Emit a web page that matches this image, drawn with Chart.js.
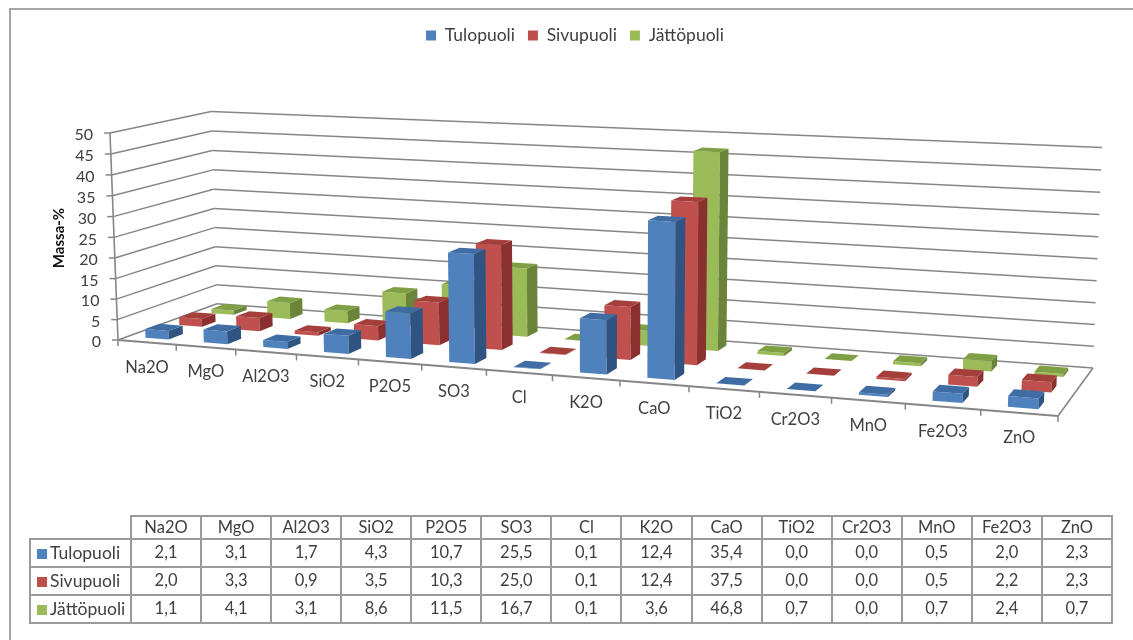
<!DOCTYPE html>
<html>
<head>
<meta charset="utf-8">
<script src="https://cdn.jsdelivr.net/npm/chart.js@4"></script>
<style>
  body { margin: 0; background: #fff; font-family: Lato, sans-serif; }
  #wrap { position: relative; width: 1133px; height: 640px; overflow: hidden; filter: blur(0.45px); }
  #frame { position: absolute; left: 9px; top: 8px; width: 1200px; height: 700px; border: 2px solid #a6a6a6; box-sizing: border-box; }
  canvas { position: absolute; left: 0; top: 0; }
  #tbl { position: absolute; left: 29px; top: 515px; border-collapse: collapse; table-layout: fixed; width: 1084px; font-size: 16.5px; color: #404040; }
  #tbl td { border: 2px solid #9a9a9a; text-align: center; padding: 0 0 2px 0; height: 24px; white-space: nowrap; }
  #tbl tr:first-child td { height: 20px; padding-bottom: 1px; }
  #tbl td.blank { border: 0; border-right: 2px solid #9a9a9a; border-bottom: 2px solid #9a9a9a; }
  #tbl td.name { text-align: left; padding-left: 6px; font-size: 17.5px; }
  #tbl i { display: inline-block; width: 10px; height: 10px; margin-right: 3px; }
</style>
</head>
<body>
<div id="wrap">
  <div id="frame"></div>
  <canvas id="c" width="1133" height="640"></canvas>
  <table id="tbl"></table>
</div>
<script>
const categories = ['Na2O', 'MgO', 'Al2O3', 'SiO2', 'P2O5', 'SO3', 'Cl', 'K2O', 'CaO', 'TiO2', 'Cr2O3', 'MnO', 'Fe2O3', 'ZnO'];
const seriesNames = ['Tulopuoli', 'Sivupuoli', 'Jättöpuoli'];
const tulopuoli = [2.1, 3.1, 1.7, 4.3, 10.7, 25.5, 0.1, 12.4, 35.4, 0.0, 0.0, 0.5, 2.0, 2.3];
const sivupuoli = [2.0, 3.3, 0.9, 3.5, 10.3, 25.0, 0.1, 12.4, 37.5, 0.0, 0.0, 0.5, 2.2, 2.3];
const jattopuoli = [1.1, 4.1, 3.1, 8.6, 11.5, 16.7, 0.1, 3.6, 46.8, 0.7, 0.0, 0.7, 2.4, 0.7];
const seriesValues = [tulopuoli, sivupuoli, jattopuoli];

// front, side, top
const colors = [
  ['#4f81bd', '#2f5482', '#3e6ca3'],
  ['#c0504d', '#8a312f', '#a53f3c'],
  ['#9bbb59', '#6a8439', '#7f9f45']
];
const gridColor = '#868686';

// floor of the 3d box: front-left, front-right, back-right, back-left
const floorQuad = [[118, 340], [1058, 416], [1093, 368], [217, 303.8]];
// where the top of the value axis lands, front-left and back-right
const topFrontLeft = [110, 133];
const topBackRight = [1102, 150];

// perspective camera fitted to the corners above
function makeCamera(q, tl, tr) {
  const [[x0, y0], [x1, y1], [x2, y2], [x3, y3]] = q;
  const dx1 = x1 - x2, dx2 = x3 - x2, sx = x0 - x1 + x2 - x3;
  const dy1 = y1 - y2, dy2 = y3 - y2, sy = y0 - y1 + y2 - y3;
  const det = dx1 * dy2 - dx2 * dy1;
  const g = (sx * dy2 - dx2 * sy) / det;
  const k = (dx1 * sy - sx * dy1) / det;
  const a = x1 - x0 + g * x1, b = x3 - x0 + k * x3;
  const d = y1 - y0 + g * y1, e = y3 - y0 + k * y3;
  const W = 1 + g + k;
  const j = (W * (tr[0] - x2) - tl[0] + x0) / (tl[0] - tr[0]);
  const c = tl[0] * (1 + j) - x0;
  const f = tl[1] * (1 + j) - y0;
  return (u, v, h) => {
    const w = g * u + k * v + j * h + 1;
    return [(a * u + b * v + c * h + x0) / w, (d * u + e * v + f * h + y0) / w];
  };
}
const project = makeCamera(floorQuad, topFrontLeft, topBackRight);

function poly(ctx, pts, fill) {
  ctx.beginPath();
  pts.forEach((p, i) => i ? ctx.lineTo(p[0], p[1]) : ctx.moveTo(p[0], p[1]));
  ctx.closePath();
  ctx.fillStyle = fill;
  ctx.fill();
}

function line(ctx, a, b, color, width) {
  ctx.beginPath();
  ctx.moveTo(a[0], a[1]);
  ctx.lineTo(b[0], b[1]);
  ctx.strokeStyle = color;
  ctx.lineWidth = width;
  ctx.stroke();
}

const box3d = {
  id: 'box3d',
  afterLayout(chart) {
    // legend sits off centre and higher than the plot
    const lg = chart.legend;
    const w = lg.right - lg.left, hgt = lg.bottom - lg.top;
    lg.left = 575 - w / 2;
    lg.right = lg.left + w;
    lg.top = 34 - hgt / 2;
    lg.bottom = lg.top + hgt;
  },
  beforeDatasetsDraw(chart) {
    const ctx = chart.ctx;
    const area = chart.chartArea;
    const xs = chart.scales.x, ys = chart.scales.y;
    const toU = px => (px - area.left) / (area.right - area.left);
    const toH = px => (area.bottom - px) / (area.bottom - area.top);

    // walls
    ctx.save();
    ys.ticks.forEach(t => {
      const h = toH(ys.getPixelForValue(t.value));
      const a = project(0, 0, h), b = project(0, 1, h), c = project(1, 1, h);
      line(ctx, a, b, gridColor, 1.5);
      line(ctx, b, c, gridColor, 1.5);
      line(ctx, [a[0] - 6, a[1]], a, gridColor, 1.5);
      ctx.fillStyle = '#404040';
      ctx.font = '16px Lato';
      ctx.textAlign = 'right';
      ctx.textBaseline = 'middle';
      ctx.fillText(t.label, a[0] - 17, a[1] + 2);
    });
    line(ctx, project(0, 0, 0), project(0, 0, 1), gridColor, 1.6);
    line(ctx, project(0, 0, 0), project(1, 0, 0), gridColor, 2.2);
    line(ctx, project(1, 0, 0), project(1, 1, 0), gridColor, 1.6);

    // category ticks and labels
    const n = categories.length;
    for (let i = 0; i <= n; i++) {
      const p = project(i / n, 0, 0);
      line(ctx, p, [p[0], p[1] + 6], gridColor, 1.5);
    }
    categories.forEach((name, i) => {
      const p = project(toU(xs.getPixelForValue(i)), 0, 0);
      ctx.fillStyle = '#404040';
      ctx.font = '16.5px Lato';
      ctx.textAlign = 'center';
      ctx.textBaseline = 'middle';
      ctx.fillText(name, p[0], p[1] + 25);
    });

    // axis title
    ctx.save();
    ctx.translate(59, 238);
    ctx.rotate(-Math.PI / 2);
    ctx.fillStyle = '#111';
    ctx.font = 'bold 15px Lato';
    ctx.textAlign = 'center';
    ctx.textBaseline = 'middle';
    ctx.fillText('Massa-%', 0, 0);
    ctx.restore();

    // bars, back row first, drawn from the library's bar elements
    for (let s = seriesValues.length - 1; s >= 0; s--) {
      const meta = chart.getDatasetMeta(s);
      const vc = (s + 0.5) / seriesValues.length;
      const v0 = vc - 0.07, v1 = vc + 0.07;
      meta.data.forEach(bar => {
        const u0 = toU(bar.x - bar.width / 2), u1 = toU(bar.x + bar.width / 2);
        const h = toH(bar.y);
        poly(ctx, [project(u0, v0, 0), project(u1, v0, 0), project(u1, v0, h), project(u0, v0, h)], colors[s][0]);
        poly(ctx, [project(u1, v0, 0), project(u1, v1, 0), project(u1, v1, h), project(u1, v0, h)], colors[s][1]);
        poly(ctx, [project(u0, v0, h), project(u1, v0, h), project(u1, v1, h), project(u0, v1, h)], colors[s][2]);
      });
    }
    ctx.restore();
    return false; // flat bars are not drawn
  }
};

new Chart(document.getElementById('c'), {
  type: 'bar',
  data: {
    labels: categories,
    datasets: seriesNames.map((name, i) => ({
      label: name,
      data: seriesValues[i],
      backgroundColor: colors[i][0],
      borderWidth: 0,
      grouped: false,
      barPercentage: 0.4,
      categoryPercentage: 1
    }))
  },
  options: {
    responsive: false,
    animation: false,
    layout: { padding: { left: 118, right: 75, top: 60, bottom: 224 } },
    plugins: {
      tooltip: { enabled: false },
      legend: {
        position: 'top',
        labels: { boxWidth: 10, boxHeight: 10, padding: 13, color: '#404040', font: { family: 'Lato', size: 17.5 } }
      }
    },
    scales: {
      x: { display: false },
      y: { display: false, min: 0, max: 50, ticks: { stepSize: 5 } }
    }
  },
  plugins: [box3d]
});

// data table under the chart
const fmt = v => v.toFixed(1).replace('.', ',');
const tbl = document.getElementById('tbl');
let html = '<colgroup><col style="width:101px">' + categories.map(() => '<col>').join('') + '</colgroup>';
html += '<tr><td class="blank"></td>' + categories.map(c => '<td>' + c + '</td>').join('') + '</tr>';
seriesNames.forEach((name, s) => {
  html += '<tr><td class="name"><i style="background:' + colors[s][0] + '"></i>' + name + '</td>' +
    seriesValues[s].map(v => '<td>' + fmt(v) + '</td>').join('') + '</tr>';
});
tbl.innerHTML = html;
</script>
</body>
</html>
